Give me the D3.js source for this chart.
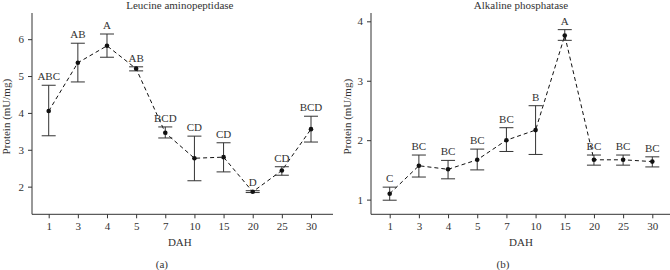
<!DOCTYPE html>
<html>
<head>
<meta charset="utf-8">
<script src="https://cdn.jsdelivr.net/npm/d3@7"></script>
<style>
  body { margin: 0; background: #fff; }
</style>
</head>
<body>
<svg id="chart" width="670" height="270"></svg>
<script>
const days = ["1", "3", "4", "5", "7", "10", "15", "20", "25", "30"]

// Leucine aminopeptidase
const lapMean = [4.05, 5.36, 5.82, 5.20, 3.46, 2.77, 2.80, 1.86, 2.44, 3.56]
const lapUpper = [4.75, 5.89, 6.14, 5.25, 3.62, 3.37, 3.19, 1.89, 2.54, 3.91]
const lapLower = [3.38, 4.84, 5.51, 5.14, 3.32, 2.16, 2.40, 1.84, 2.31, 3.21]
const lapGroups = ["ABC", "AB", "A", "AB", "BCD", "CD", "CD", "D", "CD", "BCD"]

// Alkaline phosphatase
const alpMean = [1.10, 1.57, 1.51, 1.67, 2.00, 2.17, 3.76, 1.67, 1.67, 1.64]
const alpUpper = [1.21, 1.75, 1.66, 1.85, 2.21, 2.58, 3.86, 1.75, 1.75, 1.72]
const alpLower = [0.99, 1.38, 1.35, 1.50, 1.81, 1.76, 3.68, 1.58, 1.58, 1.55]
const alpGroups = ["C", "BC", "BC", "BC", "BC", "B", "A", "BC", "BC", "BC"]

const svg = d3.select('#chart')
const ink = "#333"
const fontSize = 11
const serif = '"Liberation Serif", "DejaVu Serif", serif'

const panels = [
  {title: "Leucine aminopeptidase", tag: "(a)", mean: lapMean, upper: lapUpper, lower: lapLower, groups: lapGroups,
   axisX: 32, xRange: [48.7, 311], xEnd: 333, yDomain: [1.25, 6.71], yTicks: [2, 3, 4, 5, 6], labelX: 10},
  {title: "Alkaline phosphatase", tag: "(b)", mean: alpMean, upper: alpUpper, lower: alpLower, groups: alpGroups,
   axisX: 371, xRange: [389.7, 652.3], xEnd: 670, yDomain: [0.753, 4.14], yTicks: [1, 2, 3, 4], labelX: 351}
]

const plotTop = 13, plotBottom = 214.3

panels.forEach(p => {
  const g = svg.append('g')
  const x = d3.scalePoint().domain(days).range(p.xRange)
  const y = d3.scaleLinear().domain(p.yDomain).range([plotBottom, plotTop])
  const rows = days.map((d, i) => ({day: d, mean: p.mean[i], hi: p.upper[i], lo: p.lower[i], grp: p.groups[i]}))

  // axes
  const yAxis = g.append('g').attr('transform', `translate(${p.axisX},0)`)
    .call(d3.axisLeft(y).tickValues(p.yTicks).tickFormat(d3.format('d')).tickSize(4).tickPadding(4).tickSizeOuter(0))
  yAxis.select('.domain').remove()
  yAxis.append('line').attr('x1', 0).attr('x2', 0).attr('y1', plotTop).attr('y2', plotBottom).attr('stroke', ink)

  const xAxis = g.append('g').attr('transform', `translate(0,${plotBottom})`)
    .call(d3.axisBottom(x).tickSize(4).tickPadding(4).tickSizeOuter(0))
  xAxis.select('.domain').remove()
  xAxis.append('line').attr('x1', p.axisX).attr('x2', p.xEnd).attr('y1', 0).attr('y2', 0).attr('stroke', ink)

  g.selectAll('.tick line').attr('stroke', ink)
  g.selectAll('.tick text').style('font-size', fontSize + 'px').attr('fill', ink)

  // dashed line
  g.append('path').datum(rows)
    .attr('fill', 'none').attr('stroke', '#111').attr('stroke-width', 1)
    .attr('stroke-dasharray', '4,3')
    .attr('d', d3.line().x(d => x(d.day)).y(d => y(d.mean)))

  // error bars
  const eb = g.selectAll('g.eb').data(rows).join('g').classed('eb', true)
  eb.append('line').attr('x1', d => x(d.day)).attr('x2', d => x(d.day))
    .attr('y1', d => y(d.hi)).attr('y2', d => y(d.lo)).attr('stroke', ink)
  eb.append('line').attr('x1', d => x(d.day) - 7).attr('x2', d => x(d.day) + 7)
    .attr('y1', d => y(d.hi)).attr('y2', d => y(d.hi)).attr('stroke', ink)
  eb.append('line').attr('x1', d => x(d.day) - 7).attr('x2', d => x(d.day) + 7)
    .attr('y1', d => y(d.lo)).attr('y2', d => y(d.lo)).attr('stroke', ink)
  eb.append('circle').attr('cx', d => x(d.day)).attr('cy', d => y(d.mean)).attr('r', 2.3).attr('fill', '#111')
  eb.append('text').attr('x', d => x(d.day)).attr('y', d => y(d.hi) - 5)
    .attr('text-anchor', 'middle').style('font-size', fontSize + 'px').text(d => d.grp)

  // titles and labels
  const cx = (p.xRange[0] + p.xRange[1]) / 2
  g.append('text').attr('x', cx).attr('y', 9).attr('text-anchor', 'middle')
    .style('font-size', fontSize + 'px').text(p.title)
  g.append('text').attr('x', cx).attr('y', 246).attr('text-anchor', 'middle')
    .style('font-size', fontSize + 'px').text("DAH")
  g.append('text').attr('x', cx - 18).attr('y', 268).attr('text-anchor', 'middle')
    .style('font-size', fontSize + 'px').text(p.tag)
  g.append('text').attr('transform', `translate(${p.labelX},${(plotTop + plotBottom) / 2 + 3}) rotate(-90)`)
    .attr('text-anchor', 'middle').style('font-size', fontSize + 'px').text("Protein (mU/mg)")
})

svg.selectAll('text').style('font-family', serif).attr('fill', ink)
</script>
</body>
</html>
